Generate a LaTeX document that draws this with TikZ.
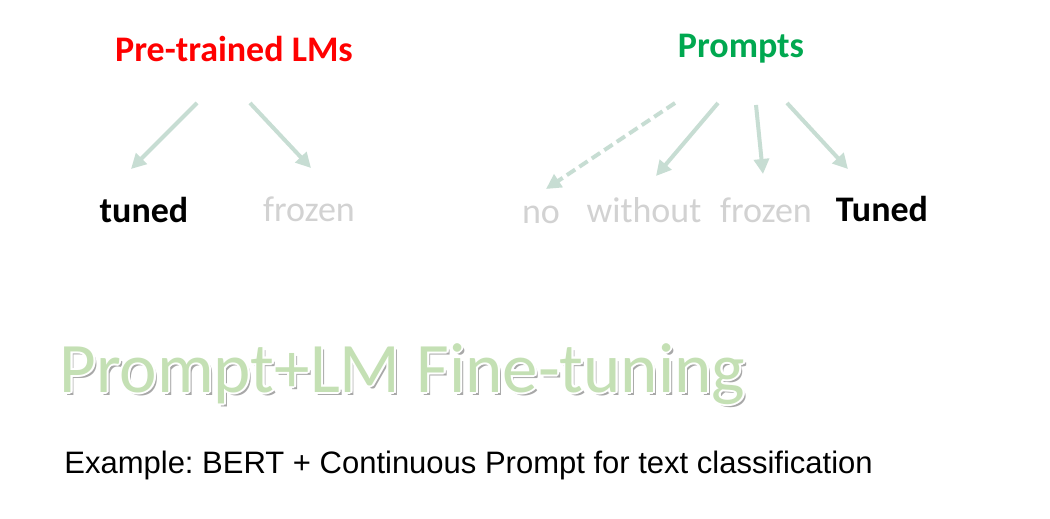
\documentclass[tikz,border=0pt]{standalone}
\usepackage{fontspec}
\setmainfont{Carlito}
\newfontfamily\examplefont{Liberation Sans}
\usetikzlibrary{arrows.meta}
\usepackage{xcolor}
\usepackage{contour}
\contourlength{1pt}
\contournumber{12}
\definecolor{lmred}{HTML}{FF0000}
\definecolor{promptgreen}{HTML}{00A850}
\definecolor{arrowgreen}{HTML}{C7DDD3}
\definecolor{fadegray}{HTML}{D2D2D2}
\definecolor{titlegreen}{HTML}{C4E0B4}
\definecolor{shadowgray}{HTML}{A8A8A8}
\frenchspacing

\tikzset{
 head/.style={font=\bfseries\fontsize{18}{22}\selectfont, anchor=base, inner sep=0pt},
 leaf/.style={font=\fontsize{18}{22}\selectfont, anchor=base, inner sep=0pt, text=fadegray},
 pick/.style={leaf, font=\bfseries\fontsize{18}{22}\selectfont, text=black},
 link/.style={draw=arrowgreen, line width=2pt, -{Triangle[length=7.5pt,width=7.5pt]}},
 title/.style={font=\fontsize{35.5}{40}\selectfont, anchor=base west, inner sep=0pt},
}

\begin{document}
\begin{tikzpicture}[x=0.5pt,y=-0.5pt]
\useasboundingbox[fill=white](0,0)rectangle(1050,519);
\node[head, text=lmred](lms) at (234,62){Pre-trained LMs};
\node[head, text=promptgreen](prompts) at (741,58){Prompts};
\node[pick](lmtuned) at (144,222){tuned};
\node[leaf](lmfrozen) at (309,221){frozen};
\node[leaf](pno) at (541,223){no};
\node[leaf](pwithout) at (644,222){without};
\node[leaf](pfrozen) at (766,222){frozen};
\node[pick](ptuned) at (882,221){Tuned};
\coordinate(lm1) at (197,103); \coordinate(lm1e) at (131,169);
\coordinate(lm2) at (250,103); \coordinate(lm2e) at (311,168);
\coordinate(p1) at (675,103); \coordinate(p1e) at (546,189);
\coordinate(p2) at (718,103); \coordinate(p2e) at (656,176);
\coordinate(p3) at (756,105); \coordinate(p3e) at (763,174);
\coordinate(p4) at (787,103); \coordinate(p4e) at (848,169);
\draw[link](lm1)--(lm1e);
\draw[link](lm2)--(lm2e);
\draw[link, dash pattern=on 5pt off 2.5pt](p1)--(p1e);
\draw[link](p2)--(p2e);
\draw[link](p3)--(p3e);
\draw[link](p4)--(p4e);
\node[title, text=shadowgray](shadow) at (62,395){Prompt+LM Fine-tuning};
\node[title, text=titlegreen](plm) at (59,392){\contour{white}{Prompt+LM Fine-tuning}};
\node[anchor=base west, inner sep=0pt, font=\examplefont\fontsize{15.5}{18}\selectfont](example) at (64,473){Example: BERT + Continuous Prompt for text classification};
\end{tikzpicture}
\end{document}
